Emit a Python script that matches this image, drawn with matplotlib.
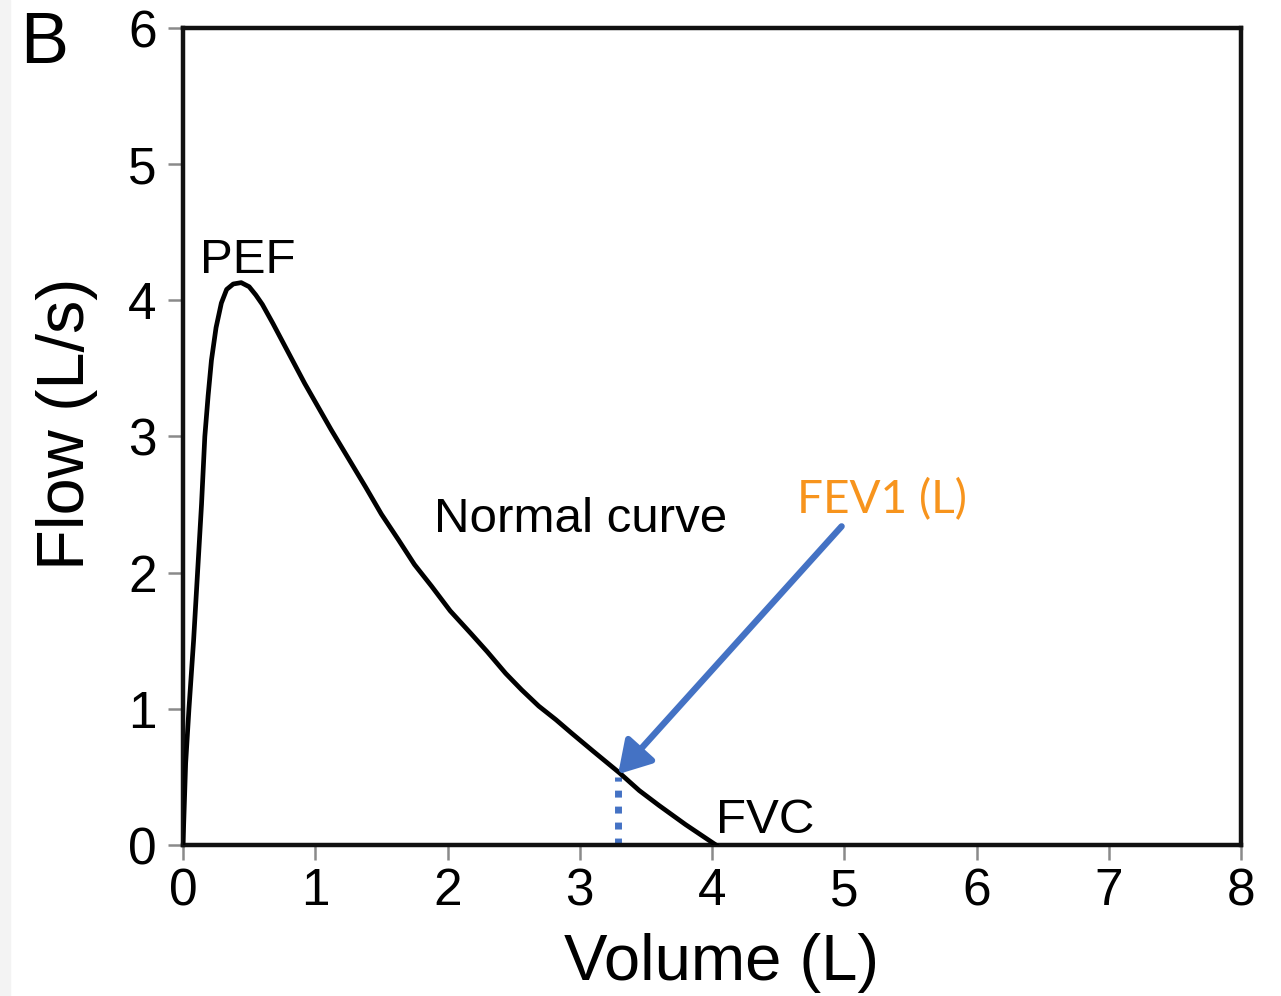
import matplotlib
matplotlib.use('Agg')
import matplotlib.pyplot as plt
from matplotlib.patches import Rectangle

# flow-volume curve
volume = [0, 0.01, 0.02, 0.045, 0.08, 0.11, 0.14, 0.165, 0.19, 0.215, 0.25,
          0.29, 0.33, 0.38, 0.44, 0.50, 0.55, 0.60, 0.68, 0.80, 0.92, 1.02,
          1.12, 1.25, 1.38, 1.50, 1.63, 1.75, 1.88, 2.02, 2.18, 2.30, 2.44,
          2.56, 2.69, 2.82, 2.94, 3.10, 3.30, 3.45, 3.60, 3.80, 4.03]
flow = [0, 0.3, 0.6, 1.0, 1.5, 2.0, 2.5, 3.0, 3.3, 3.56, 3.8,
        3.98, 4.08, 4.12, 4.13, 4.10, 4.04, 3.97, 3.83, 3.61, 3.39, 3.22,
        3.05, 2.84, 2.63, 2.43, 2.24, 2.06, 1.90, 1.72, 1.55, 1.42, 1.26,
        1.14, 1.02, 0.92, 0.82, 0.69, 0.53, 0.40, 0.29, 0.15, 0.0]

fev1_vol = 3.29
fev1_flow = 0.52
arrow_start = (4.98, 2.34)

xticks = [0, 1, 2, 3, 4, 5, 6, 7, 8]
yticks = [0, 1, 2, 3, 4, 5, 6]

blue = '#4472C4'
orange = '#F7941D'
sans = ['Liberation Sans', 'DejaVu Sans']

fig = plt.figure(figsize=(12.81, 9.96), dpi=100)
fig.patches.append(Rectangle((0, 0), 10 / 1281, 1, transform=fig.transFigure,
                             color='#f3f3f3', zorder=0))
ax = fig.add_axes([183 / 1281, 1 - 845 / 996, 1058 / 1281, 817 / 996])

ax.plot(volume, flow, color='black', lw=3.4, solid_joinstyle='round', zorder=3)
ax.plot([fev1_vol, fev1_vol], [0, fev1_flow - 0.02], color=blue, lw=5,
        dashes=(1, 1.3), zorder=2)
ax.annotate('', xy=(fev1_vol, fev1_flow), xytext=arrow_start,
            arrowprops=dict(arrowstyle='-|>,head_length=0.4,head_width=0.24',
                            mutation_scale=48, lw=4.6, color=blue,
                            shrinkA=0, shrinkB=0), zorder=4)

ax.text(0.49, 4.2, 'PEF', fontsize=35.5, family=sans, ha='center', va='baseline')
ax.text(1.9, 2.30, 'Normal curve', fontsize=35.5, family=sans, ha='left', va='baseline')
ax.text(4.03, 0.09, 'FVC', fontsize=35.5, family=sans, ha='left', va='baseline')
ax.text(4.64, 2.44, 'FEV1 (L)', fontsize=33, family=['Lato', 'DejaVu Sans'],
        color=orange, ha='left', va='baseline')

ax.set_xlim(0, 8)
ax.set_ylim(0, 6)
ax.set_xticks(xticks)
ax.set_yticks(yticks)
ax.set_xticklabels([str(t) for t in xticks], family=sans, fontsize=37)
ax.set_yticklabels([str(t) for t in yticks], family=sans, fontsize=37)
ax.tick_params(axis='both', direction='out', length=11, width=1.8, color='#8a8a8a')
ax.tick_params(axis='x', pad=5)
ax.tick_params(axis='y', pad=8)
for s in ax.spines.values():
    s.set_linewidth(3.2)
    s.set_color('#111111')

ax.set_xlabel('Volume (L)', family=sans, fontsize=47)
ax.xaxis.set_label_coords(0.509, -0.108)
ax.set_ylabel('Flow (L/s)', family=sans, fontsize=48)
ax.yaxis.set_label_coords(-0.080, 0.515)

fig.text(20 / 1281, 1 - 63 / 996, 'B', family=sans, fontsize=52, va='baseline')

fig.savefig('out.png', dpi=100)
